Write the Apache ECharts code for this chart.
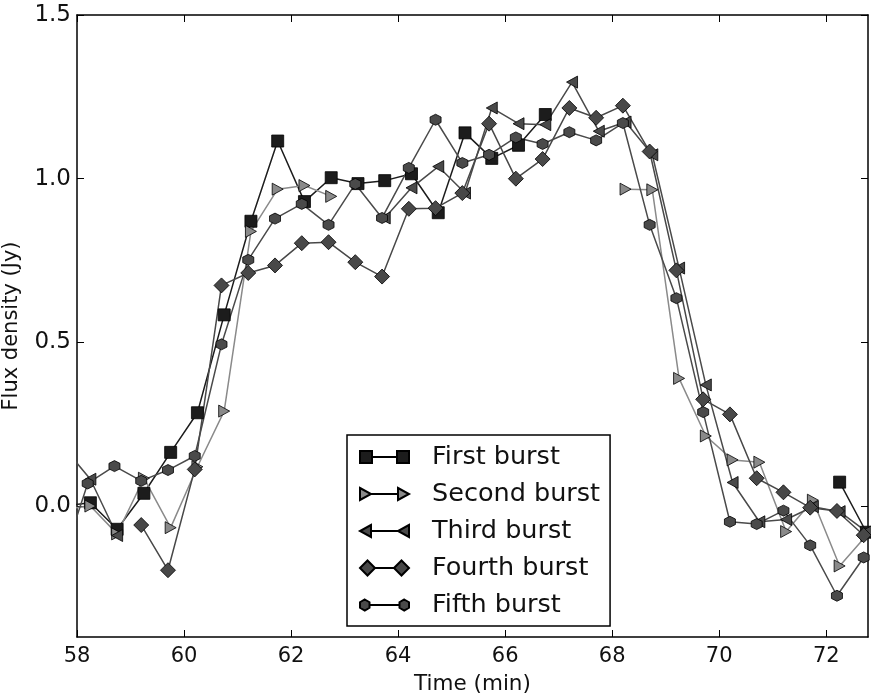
<!DOCTYPE html>
<html>
<head>
<meta charset="utf-8">
<title>Flux density bursts</title>
<script src="https://cdn.jsdelivr.net/npm/echarts@6/dist/echarts.min.js"></script>
<style>
  html, body { margin: 0; padding: 0; background: #fff; }
  #chart { width: 871px; height: 693px; }
</style>
</head>
<body>
<div id="chart"></div>
<script>
// sample times (min) - squares/triangles and diamonds/hexagons sit slightly apart
var timeA = [57.75, 58.25, 58.75, 59.25, 59.75, 60.25, 60.75, 61.25, 61.75, 62.25, 62.75,
  63.25, 63.75, 64.25, 64.75, 65.25, 65.75, 66.25, 66.75, 67.25, 67.75,
  68.25, 68.75, 69.25, 69.75, 70.25, 70.75, 71.25, 71.75, 72.25, 72.75]
var timeB = [57.7, 58.2, 58.7, 59.2, 59.7, 60.2, 60.7, 61.2, 61.7, 62.2, 62.7,
  63.2, 63.7, 64.2, 64.7, 65.2, 65.7, 66.2, 66.7, 67.2, 67.7,
  68.2, 68.7, 69.2, 69.7, 70.2, 70.7, 71.2, 71.7, 72.2, 72.7]

// flux density (Jy), null = no sample
var firstBurst = [0.0, 0.01, -0.071, 0.039, 0.164, 0.285, 0.584, 0.87, 1.115, 0.93, 1.003,
  0.985, 0.994, 1.015, 0.896, 1.14, 1.062, 1.102, 1.196, null, null,
  null, null, null, null, null, null, null, null, 0.073, -0.08]
var secondBurst = [-0.01, 0.0, -0.085, 0.085, -0.066, 0.12, 0.29, 0.839, 0.968, 0.979, 0.946,
  null, null, null, null, null, null, null, null, null, null,
  0.968, 0.966, 0.39, 0.214, 0.141, 0.134, -0.078, 0.018, -0.183, -0.09]
var thirdBurst = [0.18, 0.082, -0.09, null, null, null, null, null, null, null, null,
  null, 0.88, 0.972, 1.037, 0.956, 1.216, 1.168, 1.165, 1.295, 1.145,
  1.173, 1.073, 0.727, 0.37, 0.072, -0.048, -0.041, -0.002, -0.017, -0.078]
var fourthBurst = [null, null, null, -0.058, -0.196, 0.112, 0.674, 0.712, 0.735, 0.803, 0.806,
  0.745, 0.701, 0.908, 0.91, 0.956, 1.168, 1.0, 1.06, 1.216, 1.186,
  1.223, 1.083, 0.72, 0.326, 0.28, 0.085, 0.042, -0.005, -0.015, -0.089]
var fifthBurst = [-0.18, 0.069, 0.122, 0.077, 0.11, 0.153, 0.494, 0.752, 0.878, 0.923, 0.859,
  0.984, 0.88, 1.033, 1.18, 1.048, 1.073, 1.126, 1.106, 1.142, 1.117,
  1.17, 0.859, 0.635, 0.287, -0.048, -0.055, -0.014, -0.12, -0.274, -0.157]

var xTicks = [58, 60, 62, 64, 66, 68, 70, 72]
var yTicks = [0, 0.5, 1.0, 1.5]
var names = ['First burst', 'Second burst', 'Third burst', 'Fourth burst', 'Fifth burst']

var font = 'DejaVu Sans'

function pairs (t, v) {
  return t.map(function (x, i) {
    return [x, v[i] === null ? '-' : v[i]]
  })
}

var triRight = 'path://M0,0L1,0.5L0,1Z'
var triLeft = 'path://M1,0L0,0.5L1,1Z'
var hexagon = 'path://M0.5,0L0.933,0.25L0.933,0.75L0.5,1L0.067,0.75L0.067,0.25Z'

// legend icons: marker - line - marker, like matplotlib
var legendIcons = [
  'path://M0,1.5H12V13.5H0Z M12,7.5H37 M37,1.5H49V13.5H37Z',
  'path://M0,1.5L11,7.5L0,13.5Z M11,7.5H38 M38,1.5L49,7.5L38,13.5Z',
  'path://M11,1.5L0,7.5L11,13.5Z M11,7.5H38 M49,1.5L38,7.5L49,13.5Z',
  'path://M0,7.5L7.5,0L15,7.5L7.5,15Z M15,7.5H34 M34,7.5L41.5,0L49,7.5L41.5,15Z',
  'path://M4.8,2L9.5,4.75L9.5,10.25L4.8,13L0,10.25L0,4.75Z M9.5,7.5H39.5 M44.2,2L49,4.75L49,10.25L44.2,13L39.5,10.25L39.5,4.75Z'
]

function lineSeries (name, t, v, symbol, size, color) {
  return {
    name: name,
    type: 'line',
    data: pairs(t, v),
    symbol: symbol,
    symbolSize: size,
    connectNulls: false,
    clip: true,
    lineStyle: { color: color, width: 1.5 },
    itemStyle: { color: color, borderColor: '#000', borderWidth: 0.8 },
    emphasis: { disabled: true }
  }
}

var axisCommon = {
  type: 'value',
  axisLine: { show: true, onZero: false, lineStyle: { color: '#000', width: 1.5 } },
  splitLine: { show: false }
}

var chart = echarts.init(document.getElementById('chart'))
chart.setOption({
  animation: false,
  backgroundColor: '#fff',
  grid: { left: 77, right: 3, top: 15, bottom: 56, containLabel: false, outerBoundsMode: 'none' },
  legend: {
    orient: 'vertical',
    left: 347,
    top: 435,
    padding: [9, 10, 8, 12],
    itemWidth: 49,
    itemHeight: 15,
    itemGap: 11,
    borderColor: '#000',
    borderWidth: 1.5,
    backgroundColor: '#fff',
    textStyle: { fontFamily: font, fontSize: 25.5, color: '#111', lineHeight: 24, padding: [0, 0, 0, 18] },
    data: names.map(function (n, i) {
      return { name: n, icon: legendIcons[i] }
    })
  },
  xAxis: [
    Object.assign({}, axisCommon, {
      min: 58,
      max: 72.78,
      position: 'bottom',
      axisTick: { show: true, inside: true, length: 7, customValues: xTicks, lineStyle: { color: '#000' } },
      axisLabel: { customValues: xTicks, fontFamily: font, fontSize: 21, color: '#111', margin: 9 },
      name: 'Time (min)',
      nameLocation: 'middle',
      nameGap: 36,
      nameTextStyle: { fontFamily: font, fontSize: 21.5, color: '#111' }
    }),
    Object.assign({}, axisCommon, {
      min: 58,
      max: 72.78,
      position: 'top',
      axisTick: { show: true, inside: true, length: 7, customValues: xTicks, lineStyle: { color: '#000' } },
      axisLabel: { show: false }
    })
  ],
  yAxis: [
    Object.assign({}, axisCommon, {
      min: -0.4,
      max: 1.5,
      position: 'left',
      axisTick: { show: true, inside: true, length: 7, customValues: yTicks, lineStyle: { color: '#000' } },
      axisLabel: {
        customValues: yTicks,
        fontFamily: font,
        fontSize: 23,
        color: '#111',
        margin: 6,
        formatter: function (v) { return v.toFixed(1) }
      },
      name: 'Flux density (Jy)',
      nameLocation: 'middle',
      nameGap: 55,
      nameTextStyle: { fontFamily: font, fontSize: 21, color: '#111' }
    }),
    Object.assign({}, axisCommon, {
      min: -0.4,
      max: 1.5,
      position: 'right',
      axisTick: { show: true, inside: true, length: 7, customValues: yTicks, lineStyle: { color: '#000' } },
      axisLabel: { show: false }
    })
  ],
  series: [
    lineSeries(names[0], timeA, firstBurst, 'rect', 12, '#1c1c1c'),
    lineSeries(names[1], timeA, secondBurst, triRight, [11, 12], '#8a8a8a'),
    lineSeries(names[2], timeA, thirdBurst, triLeft, [11, 12], '#4a4a4a'),
    lineSeries(names[3], timeB, fourthBurst, 'diamond', 15, '#484848'),
    lineSeries(names[4], timeB, fifthBurst, hexagon, 11, '#4a4a4a')
  ]
})
</script>
</body>
</html>
